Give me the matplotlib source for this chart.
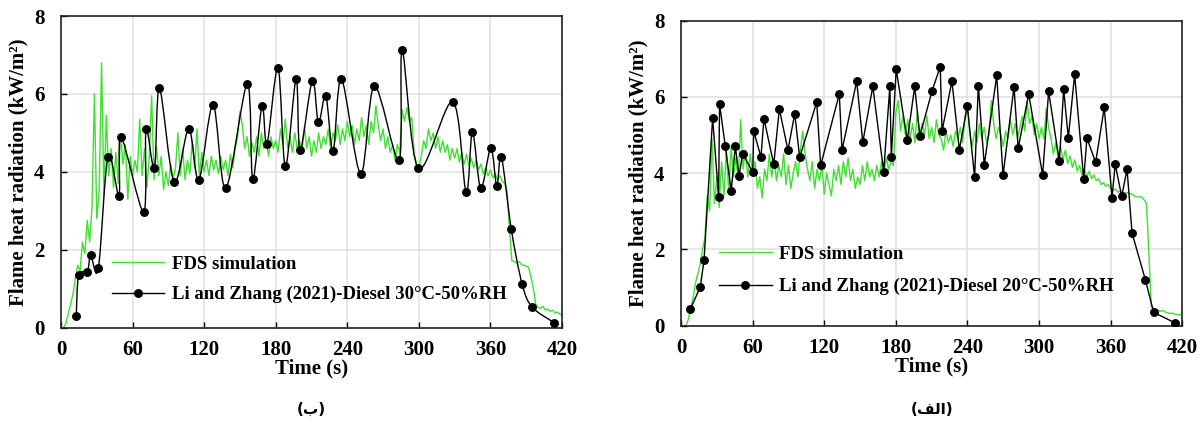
import numpy as np
import matplotlib
matplotlib.use("Agg")
import matplotlib.pyplot as plt
from matplotlib.path import Path
from matplotlib.patches import PathPatch
from matplotlib.lines import Line2D

# ---------------- data ----------------
fds_time = list(range(0, 421, 2))

fds_30 = [0, 0, 0.1, 0.35, 0.6, 0.85, 1.25, 1.6, 1.45, 2.2,
          1.9, 2.75, 2.2, 3.1, 6.0, 2.8, 3.5, 6.8, 3.4, 5.45,
          3.9, 4.6, 3.6, 4.5, 3.7, 4.95, 4.2, 4.7, 3.3, 4.4,
          3.9, 4.3, 4.0, 5.35, 3.9, 4.6, 3.6, 4.4, 5.95, 3.8,
          4.65, 3.9, 4.4, 3.55, 4.0, 3.65, 4.2, 3.8, 4.1, 5.0,
          3.9, 4.6, 3.8, 4.3, 3.95, 4.8, 4.1, 5.1, 3.9, 4.5,
          4.0, 4.3, 3.9, 4.4, 4.05, 4.3, 3.95, 4.4, 4.05, 4.3,
          3.9, 4.45, 4.1, 4.6, 4.9, 5.55, 5.2, 4.6, 4.9, 4.4,
          4.75, 4.5, 4.9, 4.4, 5.0, 4.6, 4.8, 4.4, 4.9, 4.6,
          4.8, 4.5, 5.1, 4.7, 5.35, 4.6, 4.9, 4.5, 5.0, 4.6,
          4.8, 4.5, 5.15, 4.6, 4.9, 4.4, 4.8, 4.5, 5.0, 4.6,
          4.9, 4.7, 5.1, 4.6, 5.0, 4.8, 5.2, 4.7, 5.1, 4.8,
          5.3, 4.9, 5.2, 4.7, 5.1, 4.8, 5.4, 4.9, 5.2, 4.7,
          5.3, 5.0, 5.7, 5.2, 4.8, 5.1, 4.6, 4.9, 4.5, 4.7,
          4.3, 4.7, 4.5, 5.6, 5.3, 5.65, 5.3, 5.4, 4.5, 4.2,
          4.1, 4.4, 4.8, 4.6, 5.1, 4.8, 5.0, 4.6, 4.9, 4.5,
          4.8, 4.5, 4.7, 4.3, 4.6, 4.35, 4.6, 4.25, 4.5, 4.2,
          4.45, 4.15, 4.35, 4.1, 4.3, 4.05, 4.2, 3.95, 4.1, 3.9,
          4.05, 3.85, 3.95, 3.8, 3.9, 3.75, 3.7, 3.5, 2.5, 1.72,
          1.7, 1.65, 1.7, 1.62, 1.6, 1.58, 1.55, 1.3, 1.0, 0.6,
          0.52, 0.5, 0.55, 0.45, 0.48, 0.42, 0.45, 0.38, 0.4, 0.35,
          0.33]

fds_20 = [0, 0, 0, 0.15, 0.45, 0.7, 1.1, 1.35, 1.6, 2.0,
          2.3, 3.4, 3.0, 4.9, 3.2, 3.9, 3.1, 4.3, 3.4, 4.6,
          3.5, 4.7, 3.9, 4.4, 3.8, 5.4, 4.1, 4.6, 3.9, 4.5,
          4.0, 4.3, 3.6, 3.9, 3.35, 4.1, 3.8, 4.5, 3.9, 4.4,
          3.8, 4.2, 3.9, 4.5, 3.7, 4.2, 3.6, 4.0, 4.3, 3.9,
          4.6, 5.1, 4.5, 4.1, 3.8, 4.3, 3.6, 4.1, 3.8, 4.2,
          3.45, 4.0, 3.7, 3.4, 4.1, 3.8, 4.2, 3.7, 4.3, 3.9,
          4.4, 3.8, 4.1, 3.6, 3.9, 3.7, 4.2, 3.8, 4.3, 3.9,
          4.1, 3.8, 4.2, 3.9, 4.3, 4.0, 4.4, 4.1, 4.3, 4.2,
          5.6, 5.9, 5.1, 5.5, 5.0, 5.4, 4.9, 5.3, 4.8, 5.6,
          5.0, 5.3, 5.0, 5.5, 4.9, 5.2, 4.8, 5.4, 5.0, 4.9,
          4.6, 5.1, 4.8, 5.0, 4.7, 5.1, 4.9, 5.2, 4.8, 5.5,
          5.8, 5.0, 4.7, 5.1, 4.8, 5.3, 4.9, 5.2, 4.8, 5.0,
          5.9, 5.3, 4.9, 5.2, 5.0, 4.7, 5.1, 4.9, 5.4, 5.0,
          5.3, 4.9, 5.2, 5.5, 5.1, 5.9, 5.3, 5.5, 5.0, 5.3,
          4.9, 5.2, 4.9, 5.7, 5.2, 4.9, 4.5, 4.8, 4.4, 4.7,
          4.35, 4.6, 4.25, 4.45, 4.15, 4.35, 4.05, 4.2, 3.95, 4.1,
          3.9, 4.05, 3.85, 3.95, 3.8, 3.85, 3.7, 3.75, 3.65, 3.7,
          3.6, 3.55, 3.58, 3.5, 3.52, 3.48, 3.47, 3.49, 3.46, 3.45,
          3.4, 3.38, 3.38, 3.37, 3.3, 3.2, 1.9, 0.5, 0.45, 0.42,
          0.4, 0.38, 0.4, 0.35, 0.34, 0.32, 0.33, 0.3, 0.28, 0.3,
          0.27]

exp30_time = [12.8, 14.8, 22.1, 24.9, 31.3, 39.4, 48.6, 50.3, 69.3, 71.3,
              78.3, 82.5, 94.8, 107.1, 115.5, 127.5, 138.1, 156.2, 160.7, 168.5,
              172.7, 181.9, 188.1, 197.1, 200.4, 210.7, 215.8, 222.0, 228.1, 235.1,
              251.3, 262.7, 283.4, 286.0, 299.6, 328.4, 339.6, 344.9, 351.9, 360.3,
              365.3, 369.2, 377.4, 386.6, 395.0, 413.4]
exp30_val = [0.31, 1.35, 1.44, 1.86, 1.52, 4.39, 3.39, 4.90, 2.97, 5.11,
             4.09, 6.15, 3.74, 5.11, 3.79, 5.72, 3.58, 6.26, 3.81, 5.69,
             4.72, 6.67, 4.14, 6.38, 4.55, 6.34, 5.27, 5.95, 4.53, 6.38,
             3.95, 6.20, 4.30, 7.13, 4.09, 5.80, 3.48, 5.01, 3.58, 4.61,
             3.64, 4.38, 2.54, 1.12, 0.53, 0.13]

exp20_time = [7.8, 16.2, 19.3, 26.5, 31.5, 32.3, 37.1, 42.1, 45.5, 48.6,
              51.7, 60.1, 60.9, 67.0, 69.5, 77.7, 82.4, 89.6, 95.3, 99.4,
              113.7, 117.0, 132.6, 134.9, 147.2, 152.3, 160.7, 169.8, 175.0, 176.2,
              180.3, 189.6, 195.8, 200.1, 210.3, 217.2, 218.7, 227.0, 233.2, 239.9,
              246.0, 249.1, 254.1, 264.5, 269.8, 279.0, 282.5, 291.3, 303.0, 308.0,
              317.0, 320.6, 324.5, 329.8, 337.4, 340.1, 347.4, 354.6, 361.1, 363.8,
              369.2, 373.7, 377.9, 389.0, 396.0, 414.1]
exp20_val = [0.43, 1.02, 1.72, 5.44, 3.38, 5.81, 4.71, 3.53, 4.71, 3.92,
             4.51, 4.02, 5.10, 4.42, 5.43, 4.23, 5.68, 4.60, 5.56, 4.41,
             5.86, 4.20, 6.07, 4.60, 6.41, 4.81, 6.27, 4.04, 6.27, 4.42,
             6.72, 4.86, 6.27, 4.97, 6.15, 6.79, 5.10, 6.41, 4.61, 5.76,
             3.89, 6.29, 4.21, 6.56, 3.94, 6.26, 4.65, 6.07, 3.95, 6.14,
             4.31, 6.20, 4.92, 6.59, 3.84, 4.92, 4.28, 5.72, 3.36, 4.23,
             3.39, 4.10, 2.43, 1.21, 0.35, 0.07]

x_ticks = [0, 60, 120, 180, 240, 300, 360, 420]
y_ticks = [0, 2, 4, 6, 8]
label_fds = "FDS simulation"
label_30 = "Li and Zhang (2021)-Diesel 30°C-50%RH"
label_20 = "Li and Zhang (2021)-Diesel 20°C-50%RH"
x_label = "Time (s)"
y_label = "Flame heat radiation (kW/m²)"
caption_left = "(ب)"
caption_right = "(\uFED2\uFEDF\u0627)"

# ---------------- style ----------------
SERIF = ["Liberation Serif", "DejaVu Serif"]
GREEN = "#3fe030"
plt.rcParams["font.family"] = SERIF
plt.rcParams["font.weight"] = "bold"


def smooth_path(x, y, sx, sy):
    """Excel-like smoothed line as cubic Bezier path (drawn by matplotlib)."""
    P = np.column_stack([np.asarray(x, float) / sx, np.asarray(y, float) / sy])
    verts = [P[0]]
    codes = [Path.MOVETO]
    n = len(P)
    for i in range(n - 1):
        p0 = P[i - 1] if i > 0 else P[i]
        p1 = P[i]
        p2 = P[i + 1]
        p3 = P[i + 2] if i + 2 < n else P[i + 1]
        c1 = p1 + (p2 - p0) / 6.0
        c2 = p2 - (p3 - p1) / 6.0
        verts += [c1, c2, p2]
        codes += [Path.CURVE4] * 3
    V = np.array(verts) * [sx, sy]
    return Path(V, codes)


fig = plt.figure(figsize=(12.04, 4.21), dpi=100)
W, H = 1204.0, 421.0
ax1 = fig.add_axes([61 / W, 1 - 327.7 / H, 501 / W, (327.7 - 16) / H])
ax2 = fig.add_axes([681 / W, 1 - 325.7 / H, 501.3 / W, (325.7 - 20.5) / H])


def style(ax):
    ax.set_xlim(0, 420)
    ax.set_ylim(0, 8)
    ax.set_xticks(x_ticks)
    ax.set_yticks(y_ticks)
    ax.grid(True, color="#e0e0e0", linewidth=1.1)
    ax.set_axisbelow(True)
    ax.tick_params(direction="in", length=4, width=1, top=False, right=False,
                   labelsize=15)
    ax.tick_params(axis="x", pad=9)
    ax.tick_params(axis="y", pad=12)
    for s in ax.spines.values():
        s.set_linewidth(1.2)
        s.set_color("#222222")
    for lab in ax.get_xticklabels() + ax.get_yticklabels():
        lab.set_fontweight("bold")
    ax.set_xlabel(x_label, fontsize=15, fontweight="bold", labelpad=-1)
    ax.set_ylabel(y_label, fontsize=15, fontweight="bold", labelpad=4)


style(ax1)
style(ax2)

# left panel (30 C) - smoothed black line
ax1.plot(fds_time, fds_30, color=GREEN, linewidth=1.0, zorder=2)
sx = 420 / 501.0
sy = 8 / 311.7
ax1.add_patch(PathPatch(smooth_path(exp30_time, exp30_val, sx, sy),
                        facecolor="none", edgecolor="black", linewidth=1.0,
                        zorder=3))
ax1.plot(exp30_time, exp30_val, linestyle="none", marker="o", markersize=5.4,
         color="black", zorder=4)
h1 = [Line2D([], [], color=GREEN, linewidth=1.0),
      Line2D([], [], color="black", linewidth=1.0, marker="o", markersize=5.4)]
ax1.legend(h1, [label_fds, label_30], loc="upper left",
           bbox_to_anchor=(0.101, 0.232), frameon=False, borderpad=0,
           borderaxespad=0, handlelength=2.8, handletextpad=0.4,
           labelspacing=0.72, prop={"family": SERIF, "weight": "bold", "size": 13.5})

# right panel (20 C) - straight black line
ax2.plot(fds_time, fds_20, color=GREEN, linewidth=1.0, zorder=2)
ax2.plot(exp20_time, exp20_val, color="black", linewidth=1.0, marker="o",
         markersize=5.4, zorder=3)
h2 = [Line2D([], [], color=GREEN, linewidth=1.0),
      Line2D([], [], color="black", linewidth=1.0, marker="o", markersize=5.4)]
ax2.legend(h2, [label_fds, label_20], loc="upper left",
           bbox_to_anchor=(0.076, 0.262), frameon=False, borderpad=0,
           borderaxespad=0, handlelength=2.8, handletextpad=0.4,
           labelspacing=0.8, prop={"family": SERIF, "weight": "bold", "size": 13.5})

fig.text(311 / W, 1 - 409 / H, caption_left, ha="center", va="center",
         fontsize=11, fontweight="bold", family=["DejaVu Sans"])
fig.text(932 / W, 1 - 409 / H, caption_right, ha="center", va="center",
         fontsize=11, fontweight="bold", family=["DejaVu Sans"])

fig.savefig("out.png", dpi=100)
